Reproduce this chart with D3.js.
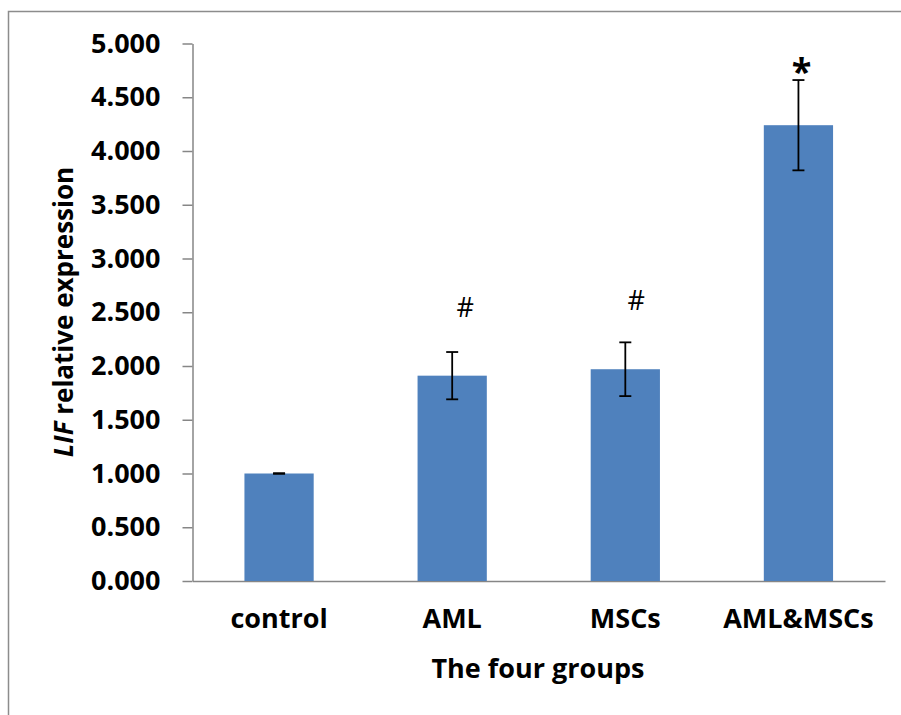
<!DOCTYPE html>
<html>
<head>
<meta charset="utf-8">
<script src="https://cdn.jsdelivr.net/npm/d3@7"></script>
<style>
  body { margin: 0; background: white; }
  text { font-family: "Open Sans", sans-serif; }
</style>
</head>
<body>
<div id="container"></div>
<script>
let w = 901;
let h = 715;

// data
let groups = ["control", "AML", "MSCs", "AML&MSCs"];
let values = [1.0, 1.91, 1.97, 4.24];
let errors = [0.003, 0.22, 0.25, 0.42];
let marks = ["", "#", "#", "*"];
let markLevels = [0, 2.55, 2.61, 4.80];
let yTicks = [0, 0.5, 1, 1.5, 2, 2.5, 3, 3.5, 4, 4.5, 5];

let plotLeft = 192.5, plotRight = 885, plotTop = 43.5, plotBottom = 581;

let viz = d3.select("#container").append("svg")
    .attr("width", w)
    .attr("height", h)
    .style("background-color", "white")
;

// outer frame (only top & left show in the picture)
viz.append("rect")
    .attr("x", 8.5)
    .attr("y", 11.5)
    .attr("width", w + 20)
    .attr("height", h + 20)
    .attr("fill", "none")
    .attr("stroke", "#8c8c8c")
    .attr("stroke-width", 1.5)
;

let x = d3.scaleBand()
    .domain(groups)
    .range([plotLeft, plotRight])
    .paddingInner(0.6)
    .paddingOuter(0.3)
;
let y = d3.scaleLinear()
    .domain([0, 5])
    .range([plotBottom, plotTop])
;

// y axis
let yAxis = viz.append("g")
    .attr("transform", "translate(" + plotLeft + ",0)")
    .call(d3.axisLeft(y).tickValues(yTicks).tickFormat(d3.format(".3f")).tickSize(10).tickPadding(22).tickSizeOuter(0))
;
yAxis.select(".domain").attr("stroke", "#868686").attr("stroke-width", 1.5);
yAxis.selectAll(".tick line").attr("stroke", "#868686").attr("stroke-width", 1.5);
yAxis.selectAll(".tick text")
    .attr("font-family", "Open Sans")
    .attr("font-weight", "bold")
    .attr("font-size", 27)
    .attr("fill", "black")
;

// x axis
let xAxis = viz.append("g")
    .attr("transform", "translate(0," + plotBottom + ")")
    .call(d3.axisBottom(x).tickSize(0).tickPadding(28).tickSizeOuter(0))
;
xAxis.select(".domain").attr("stroke", "#868686").attr("stroke-width", 1.5);
xAxis.selectAll(".tick text")
    .attr("font-family", "Open Sans")
    .attr("font-weight", "bold")
    .attr("font-size", 27)
    .attr("fill", "black")
;

// bars
let bars = viz.append("g").attr("class", "bars");
bars.selectAll("rect").data(groups).enter()
  .append("rect")
    .attr("x", function(d) { return x(d); })
    .attr("y", function(d, i) { return y(values[i]); })
    .attr("width", x.bandwidth())
    .attr("height", function(d, i) { return y(0) - y(values[i]); })
    .attr("fill", "#4F81BD")
;

// error bars
let errG = viz.append("g").attr("class", "errors");
let cap = 6;
groups.forEach(function(g, i) {
  let cx = x(g) + x.bandwidth() / 2;
  let hi = y(values[i] + errors[i]);
  let lo = y(values[i] - errors[i]);
  errG.append("line")
      .attr("x1", cx).attr("x2", cx)
      .attr("y1", hi).attr("y2", lo)
      .attr("stroke", "black").attr("stroke-width", 1.8);
  errG.append("line")
      .attr("x1", cx - cap).attr("x2", cx + cap)
      .attr("y1", hi).attr("y2", hi)
      .attr("stroke", "black").attr("stroke-width", 1.8);
  errG.append("line")
      .attr("x1", cx - cap).attr("x2", cx + cap)
      .attr("y1", lo).attr("y2", lo)
      .attr("stroke", "black").attr("stroke-width", 1.8);
});

// significance marks
let markOffsets = [0, 13, 11, 3];
viz.append("g").selectAll("text").data(groups).enter()
  .append("text")
    .text(function(d, i) { return marks[i]; })
    .attr("x", function(d, i) { return x(d) + x.bandwidth() / 2 + markOffsets[i]; })
    .attr("y", function(d, i) { return y(markLevels[i]); })
    .attr("dy", function(d, i) { return marks[i] == "*" ? "0.52em" : "0.36em"; })
    .attr("text-anchor", "middle")
    .attr("font-family", "Open Sans")
    .attr("font-weight", function(d, i) { return marks[i] == "*" ? "bold" : "normal"; })
    .attr("font-size", function(d, i) { return marks[i] == "*" ? 36 : 27; })
;

// axis titles
viz.append("text")
    .text("The four groups")
    .attr("x", 538)
    .attr("y", 678)
    .attr("text-anchor", "middle")
    .attr("font-family", "Open Sans")
    .attr("font-weight", "bold")
    .attr("font-size", 27)
;

let yTitle = viz.append("text")
    .attr("transform", "translate(73,312) rotate(-90)")
    .attr("text-anchor", "middle")
    .attr("font-family", "Open Sans")
    .attr("font-weight", "bold")
    .attr("font-size", 26)
;
yTitle.append("tspan").attr("font-style", "italic").text("LIF");
yTitle.append("tspan").text(" relative expression");
</script>
</body>
</html>
